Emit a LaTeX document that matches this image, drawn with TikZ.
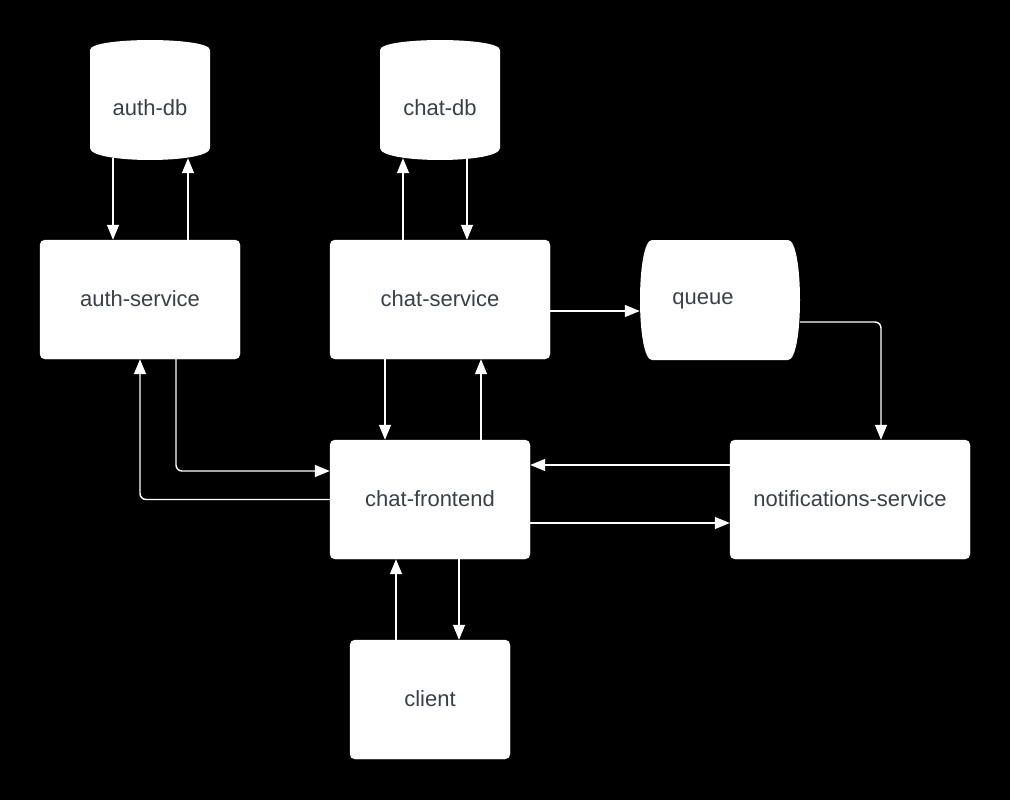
\documentclass[tikz,border=0pt]{standalone}
\usepackage{fontspec}
\setmainfont{Liberation Sans}
\usetikzlibrary{arrows.meta}
\definecolor{txt}{RGB}{58,64,73}
\tikzset{
  box/.style={draw=white, fill=white, rounded corners=5pt, inner sep=0pt, text=txt, font=\fontsize{22}{26}\selectfont},
  anchorbox/.style={draw=none, inner sep=0pt, text=txt, font=\fontsize{22}{26}\selectfont},
  arr/.style={draw=white, line width=1.4pt, -{Triangle[length=15pt,width=12pt]}},
  elbow/.style={arr, rounded corners=6pt}
}
\begin{document}
\begin{tikzpicture}[x=1pt,y=-1pt]
\useasboundingbox (0,0) rectangle (1010,800);
\fill[black] (0,0) rectangle (1010,800);
% cylinders
\fill[white] (90,50) .. controls (90,36.7) and (210,36.7) .. (210,50) -- (210,148) .. controls (210,164) and (90,164) .. (90,148) -- cycle;
\fill[white] (380,50) .. controls (380,36.7) and (500,36.7) .. (500,50) -- (500,148) .. controls (500,164) and (380,164) .. (380,148) -- cycle;
\node[anchorbox, minimum width=120pt, minimum height=116pt] (authdb) at (150,100) {};
\node[anchorbox] (authdbtext) at (150,108) {auth-db};
\node[anchorbox, minimum width=120pt, minimum height=116pt] (chatdb) at (440,100) {};
\node[anchorbox] (chatdbtext) at (440,108) {chat-db};
% queue
\fill[white] (652,240) -- (788,240) .. controls (804,240) and (804,360) .. (788,360) -- (652,360) .. controls (636,360) and (636,240) .. (652,240) -- cycle;
\node[anchorbox, minimum width=160pt, minimum height=120pt] (queue) at (720,300) {};
\node[anchorbox] (queuetext) at (703,300.5) {queue};
% boxes
\node[box, minimum width=200pt, minimum height=119pt] (auth) at (140,299.5) {\raisebox{1.5pt}{auth-service}};
\node[box, minimum width=220pt, minimum height=119pt] (chat) at (440,299.5) {\raisebox{1.5pt}{chat-service}};
\node[box, minimum width=200pt, minimum height=119pt] (front) at (430,499.5) {\raisebox{1.5pt}{chat-frontend}};
\node[box, minimum width=240pt, minimum height=119pt] (notif) at (850,499.5) {\raisebox{1.5pt}{notifications-service}};
\node[box, minimum width=160pt, minimum height=119pt] (client) at (430,699.5) {\raisebox{1.5pt}{client}};
% connectors
\draw[arr] ([xshift=-37pt]authdb.south) -- ([xshift=-27pt]auth.north);
\draw[arr] ([xshift=48pt]auth.north) -- ([xshift=38pt]authdb.south);
\draw[arr] ([xshift=-37pt]chat.north) -- ([xshift=-37pt]chatdb.south);
\draw[arr] ([xshift=27pt]chatdb.south) -- ([xshift=27pt]chat.north);
\draw[arr] ([yshift=-11.5pt]chat.east) -- ([yshift=-11pt]queue.west);
\draw[elbow] ([yshift=-22pt]queue.east) -| ([xshift=31pt]notif.north);
\draw[elbow] ([xshift=36pt]auth.south) |- ([yshift=28.5pt]front.west);
\draw[elbow] (front.west) -| (auth.south);
\draw[arr] ([xshift=-55pt]chat.south) -- ([xshift=-45pt]front.north);
\draw[arr] ([xshift=51pt]front.north) -- ([xshift=41pt]chat.south);
\draw[arr] ([yshift=34.5pt]notif.west) -- ([yshift=34.5pt]front.east);
\draw[arr] ([yshift=-23.5pt]front.east) -- ([yshift=-23.5pt]notif.west);
\draw[arr] ([xshift=29pt]front.south) -- ([xshift=29pt]client.north);
\draw[arr] ([xshift=-34pt]client.north) -- ([xshift=-34pt]front.south);
\end{tikzpicture}
\end{document}
